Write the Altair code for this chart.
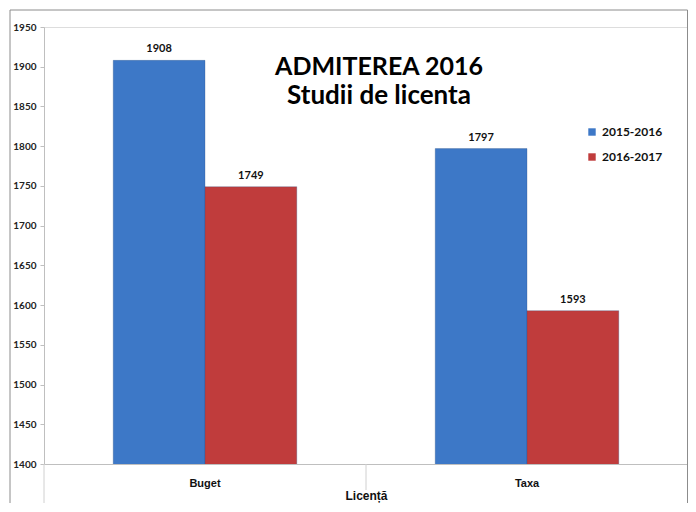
import altair as alt
import pandas as pd

categories = ["Buget", "Taxa"]
series = ["2015-2016", "2016-2017"]
values_2015_2016 = [1908, 1797]
values_2016_2017 = [1749, 1593]
title_lines = ["ADMITEREA 2016", "Studii de licenta"]
colors = ["#3D78C7", "#C03C3C"]

rows = []
for i, c in enumerate(categories):
    rows.append({"cat": c, "serie": series[0], "val": values_2015_2016[i]})
    rows.append({"cat": c, "serie": series[1], "val": values_2016_2017[i]})
df = pd.DataFrame(rows)

W, H = 644, 437

x = alt.X("cat:N", sort=categories, title="Licență",
          scale=alt.Scale(paddingInner=0.43, paddingOuter=0.215),
          axis=alt.Axis(labelAngle=0, ticks=False, domainColor="#BFBFBF",
                        labelPadding=13, labelFont="Liberation Sans",
                        labelFontWeight="bold", labelFontSize=11, labelColor="#111",
                        titleFont="Liberation Sans", titleFontWeight="bold",
                        titleFontSize=12, titleColor="#111", titlePadding=2))
y = alt.Y("val:Q", title=None,
          scale=alt.Scale(domain=[1400, 1950], nice=False, zero=False),
          axis=alt.Axis(values=list(range(1400, 1951, 50)), format="d", grid=False,
                        tickSize=4, tickColor="#BFBFBF", domainColor="#BFBFBF",
                        labelPadding=4, labelFont="Lato", labelFontWeight="bold",
                        labelFontSize=10, labelColor="#222"))

base = alt.Chart(df)
bars = base.mark_bar(stroke="#2a4f80", strokeWidth=0.3, clip=True).encode(
    x=x, y=y, xOffset=alt.XOffset("serie:N", sort=series),
    color=alt.Color("serie:N", sort=series,
                    scale=alt.Scale(domain=series, range=colors),
                    legend=alt.Legend(title=None, orient="none", legendX=542, legendY=99,
                                      symbolType="square", symbolSize=55,
                                      symbolStrokeWidth=0, rowPadding=13,
                                      labelFont="Lato", labelFontWeight="bold",
                                      labelFontSize=12, labelColor="#111")),
)
labels = base.mark_text(baseline="bottom", dy=-6, font="Lato", fontWeight="bold",
                        fontSize=11, color="#111").encode(
    x=x, y=y, xOffset=alt.XOffset("serie:N", sort=series), text="val:Q")

t1 = alt.Chart(pd.DataFrame({"t": [title_lines[0]]})).mark_text(
    font="Lato", fontWeight="bold", fontSize=25, color="#000", baseline="alphabetic"
).encode(x=alt.value(335), y=alt.value(48), text="t:N")
t2 = alt.Chart(pd.DataFrame({"t": [title_lines[1]]})).mark_text(
    font="Lato", fontWeight="bold", fontSize=26, color="#000", baseline="alphabetic"
).encode(x=alt.value(335), y=alt.value(77), text="t:N")

frame = alt.Chart(pd.DataFrame({"a": [0]})).mark_rect(
    fill=None, stroke="#8c8c8c", strokeWidth=1
).encode(x=alt.value(-34), x2=alt.value(W - 0.5), y=alt.value(-17), y2=alt.value(500))

leftline = alt.Chart(pd.DataFrame({"a": [0]})).mark_rule(
    color="#D0D0D0", strokeWidth=1
).encode(x=alt.value(0), y=alt.value(H), y2=alt.value(500))

midline = alt.Chart(pd.DataFrame({"a": [0]})).mark_rule(
    color="#D0D0D0", strokeWidth=1
).encode(x=alt.value(W / 2), y=alt.value(H), y2=alt.value(H + 26))

chart = alt.layer(frame, leftline, midline, bars, labels, t1, t2).properties(
    width=W, height=H,
    autosize=alt.AutoSizeParams(type="none"),
    padding={"left": 36, "top": 19, "right": 0, "bottom": 39},
).configure_view(stroke=None).configure(background="white")

chart.save("out.html", embed_options={"renderer": "svg", "actions": False})
